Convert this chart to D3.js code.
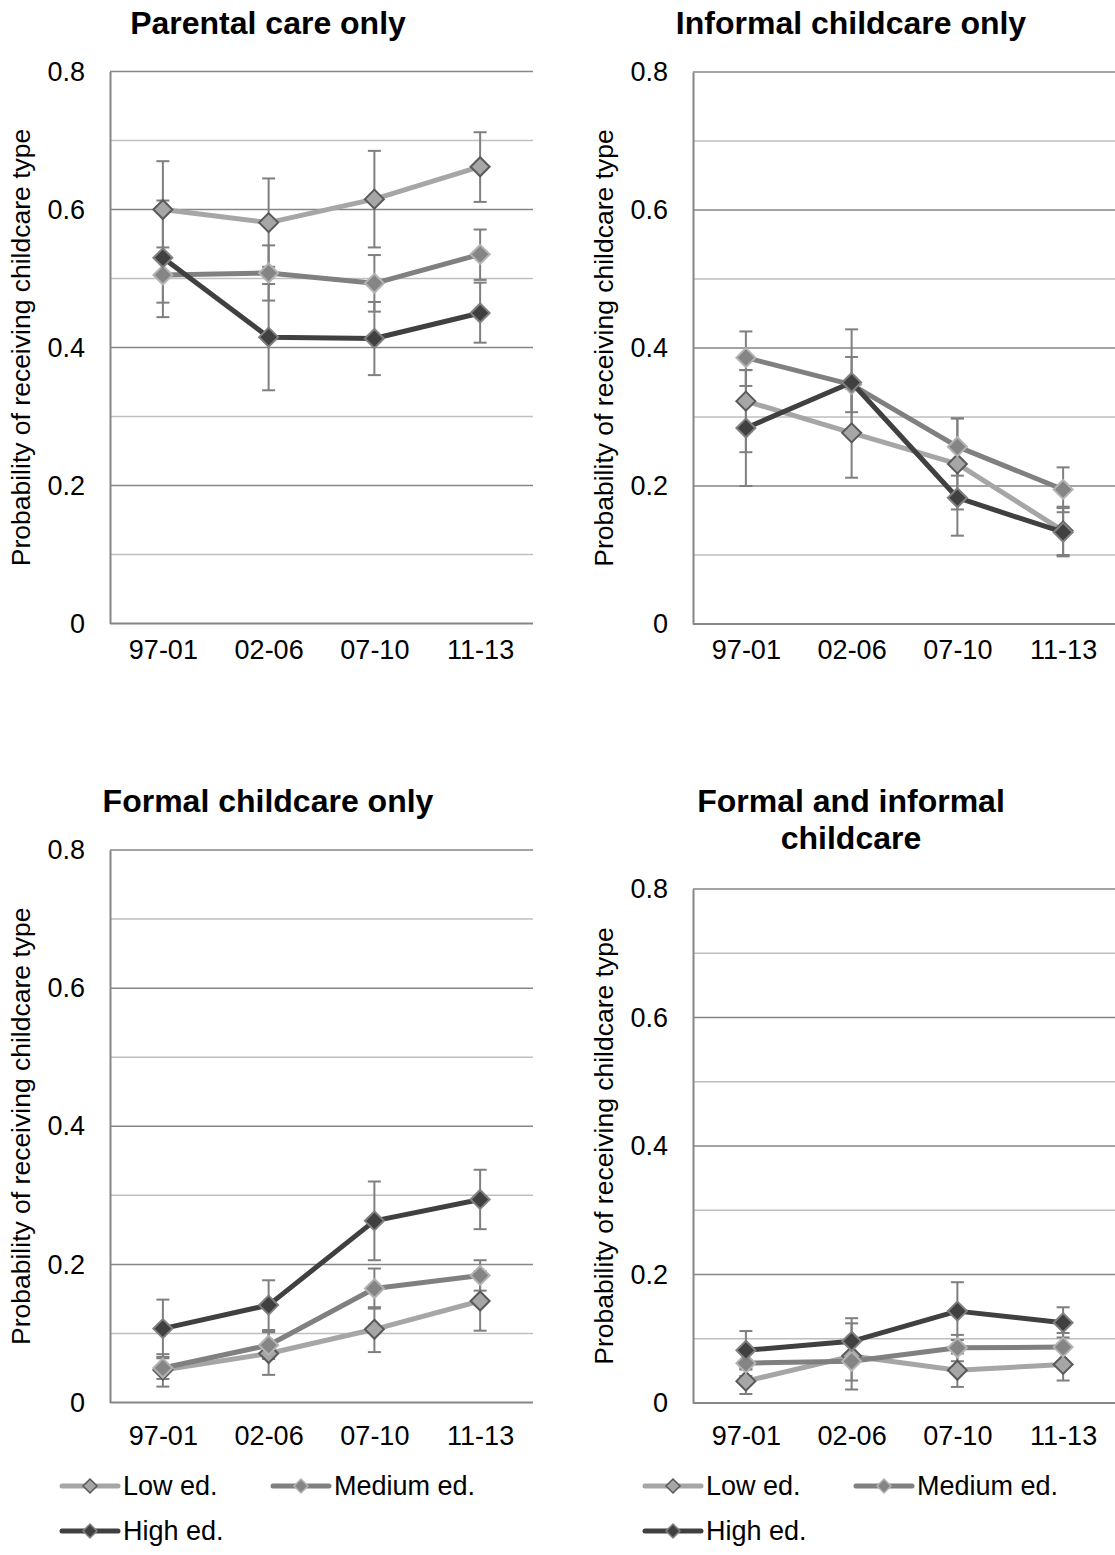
<!DOCTYPE html>
<html><head><meta charset="utf-8">
<script src="https://cdn.jsdelivr.net/npm/d3@7"></script>
<style>body{margin:0;background:#fff} svg{display:block;font-family:"Liberation Sans",Arial,sans-serif}</style>
</head><body><svg id="c" width="1115" height="1555"></svg>
<script>
// ---------- DATA ----------
const categories = ["97-01", "02-06", "07-10", "11-13"];
const seriesNames = ["Low ed.", "Medium ed.", "High ed."];
const yTicks = [0, 0.2, 0.4, 0.6, 0.8];
const yMinorGrid = [0.1, 0.3, 0.5, 0.7];
const panelTitles = [["Parental care only"], ["Informal childcare only"], ["Formal childcare only"], ["Formal and informal", "childcare"]];
const yAxisTitle = "Probability of receiving childcare type";

// Parental care only  (rows: Low, Medium, High)
const parentalValues = [[0.600, 0.581, 0.615, 0.662], [0.505, 0.508, 0.493, 0.535], [0.530, 0.415, 0.413, 0.450]];
const parentalLower  = [[0.530, 0.517, 0.545, 0.611], [0.465, 0.468, 0.452, 0.498], [0.444, 0.338, 0.360, 0.407]];
const parentalUpper  = [[0.670, 0.645, 0.685, 0.712], [0.545, 0.548, 0.534, 0.571], [0.613, 0.492, 0.466, 0.494]];

// Informal childcare only
const informalValues = [[0.323, 0.277, 0.232, 0.135], [0.386, 0.347, 0.257, 0.195], [0.284, 0.350, 0.183, 0.133]];
const informalLower  = [[0.249, 0.212, 0.166, 0.100], [0.345, 0.307, 0.215, 0.162], [0.200, 0.272, 0.128, 0.098]];
const informalUpper  = [[0.368, 0.341, 0.298, 0.170], [0.424, 0.387, 0.298, 0.227], [0.368, 0.427, 0.237, 0.168]];

// Formal childcare only
const formalValues = [[0.047, 0.071, 0.106, 0.147], [0.050, 0.083, 0.165, 0.184], [0.107, 0.141, 0.263, 0.294]];
const formalLower  = [[0.023, 0.040, 0.073, 0.104], [0.034, 0.063, 0.136, 0.162], [0.064, 0.105, 0.206, 0.251]];
const formalUpper  = [[0.070, 0.102, 0.138, 0.190], [0.066, 0.103, 0.194, 0.206], [0.149, 0.177, 0.320, 0.337]];

// Formal and informal childcare
const bothValues = [[0.034, 0.073, 0.051, 0.060], [0.062, 0.065, 0.086, 0.087], [0.082, 0.096, 0.143, 0.125]];
const bothLower  = [[0.014, 0.021, 0.025, 0.035], [0.042, 0.035, 0.065, 0.065], [0.052, 0.060, 0.098, 0.102]];
const bothUpper  = [[0.054, 0.124, 0.077, 0.084], [0.082, 0.095, 0.106, 0.109], [0.112, 0.132, 0.188, 0.149]];

// ---------- STYLE / LAYOUT ----------
const seriesStyles = [
  {line: "#a6a6a6", fill: "#a6a6a6", stroke: "#595959"},
  {line: "#808080", fill: "#858585", stroke: "#b3b3b3"},
  {line: "#404040", fill: "#404040", stroke: "#808080"}
];
const panels = [
  {values: parentalValues, lower: parentalLower, upper: parentalUpper, title: panelTitles[0],
   left: 110, right: 533, top: 71.5, bottom: 623.5, chartX: 0, titleBase: 34, xPad: 16, legend: false},
  {values: informalValues, lower: informalLower, upper: informalUpper, title: panelTitles[1],
   left: 693, right: 1116, top: 72, bottom: 624, chartX: 583, titleBase: 34, xPad: 16, legend: false},
  {values: formalValues, lower: formalLower, upper: formalUpper, title: panelTitles[2],
   left: 110, right: 533, top: 850, bottom: 1402.5, chartX: 0, titleBase: 812, xPad: 23, legend: true},
  {values: bothValues, lower: bothLower, upper: bothUpper, title: panelTitles[3],
   left: 693, right: 1116, top: 889, bottom: 1403, chartX: 583, titleBase: 812, xPad: 23, legend: true}
];
const chartWidth = 536;
const svg = d3.select("#c");
const diamond = r => `M0,${-r}L${r},0L0,${r}L${-r},0Z`;

function drawPanel(p) {
  const g = svg.append("g");
  const x = d3.scalePoint().domain(categories).range([p.left, p.right]).padding(0.5);
  const y = d3.scaleLinear().domain([0, 0.8]).range([p.bottom, p.top]);

  g.selectAll(".minor").data(yMinorGrid).join("line")
    .attr("x1", p.left).attr("x2", p.right).attr("y1", d => y(d)).attr("y2", d => y(d))
    .attr("stroke", "#bfbfbf").attr("stroke-width", 1.5);
  g.selectAll(".major").data(yTicks.filter(d => d > 0)).join("line")
    .attr("x1", p.left).attr("x2", p.right).attr("y1", d => y(d)).attr("y2", d => y(d))
    .attr("stroke", "#868686").attr("stroke-width", 1.5);

  const ya = g.append("g").attr("transform", `translate(${p.left},0)`)
    .call(d3.axisLeft(y).tickValues(yTicks).tickSize(0).tickPadding(25)
      .tickFormat(d => d === 0 ? "0" : d3.format(".1f")(d)));
  ya.select(".domain").attr("stroke", "#868686").attr("stroke-width", 2);
  ya.selectAll("text").attr("font-size", 27).attr("fill", "#000").attr("font-family", "Liberation Sans, Arial, sans-serif");

  const xa = g.append("g").attr("transform", `translate(0,${p.bottom})`)
    .call(d3.axisBottom(x).tickSize(0).tickPadding(p.xPad));
  xa.select(".domain").attr("stroke", "#868686").attr("stroke-width", 2).attr("d", `M${p.left},0H${p.right}`);
  xa.selectAll("text").attr("font-size", 27).attr("fill", "#000").attr("font-family", "Liberation Sans, Arial, sans-serif");

  g.append("text")
    .attr("transform", `translate(${p.chartX + 30},${(p.top + p.bottom) / 2}) rotate(-90)`)
    .attr("text-anchor", "middle").attr("font-size", 26.5).attr("fill", "#000")
    .text(yAxisTitle);

  const tcx = p.chartX + chartWidth / 2;
  p.title.forEach((t, i) => {
    g.append("text").attr("x", tcx).attr("y", p.titleBase + i * 37)
      .attr("text-anchor", "middle").attr("font-size", 32).attr("font-weight", "bold").attr("fill", "#000")
      .text(t);
  });

  p.values.forEach((vals, s) => {
    const eb = g.append("g").attr("stroke", "#7f7f7f").attr("stroke-width", 2).attr("fill", "none");
    categories.forEach((c, i) => {
      const cx = x(c), lo = y(p.lower[s][i]), hi = y(p.upper[s][i]);
      eb.append("line").attr("x1", cx).attr("x2", cx).attr("y1", lo).attr("y2", hi);
      eb.append("line").attr("x1", cx - 6.5).attr("x2", cx + 6.5).attr("y1", lo).attr("y2", lo);
      eb.append("line").attr("x1", cx - 6.5).attr("x2", cx + 6.5).attr("y1", hi).attr("y2", hi);
    });
  });

  const line = d3.line().x((d, i) => x(categories[i])).y(d => y(d));
  p.values.forEach((vals, s) => {
    const st = seriesStyles[s];
    g.append("path").datum(vals).attr("d", line)
      .attr("fill", "none").attr("stroke", st.line).attr("stroke-width", 5).attr("stroke-linejoin", "round");
    g.selectAll(null).data(vals).join("path")
      .attr("transform", (d, i) => `translate(${x(categories[i])},${y(d)})`)
      .attr("d", diamond(9.5)).attr("fill", st.fill).attr("stroke", st.stroke).attr("stroke-width", 2);
  });

  if (p.legend) {
    const items = [
      {s: 0, lx: p.chartX + 62, ly: 1486},
      {s: 1, lx: p.chartX + 273, ly: 1486},
      {s: 2, lx: p.chartX + 62, ly: 1531}
    ];
    items.forEach(it => {
      const st = seriesStyles[it.s];
      const lg = g.append("g").attr("transform", `translate(${it.lx},${it.ly})`);
      lg.append("line").attr("x1", 0).attr("x2", 56).attr("y1", 0).attr("y2", 0)
        .attr("stroke", st.line).attr("stroke-width", 5).attr("stroke-linecap", "round");
      lg.append("path").attr("transform", "translate(28,0)").attr("d", diamond(7))
        .attr("fill", st.fill).attr("stroke", st.stroke).attr("stroke-width", 1.5);
      lg.append("text").attr("x", 61).attr("y", 0).attr("dy", "0.35em")
        .attr("font-size", 27).attr("fill", "#000").text(seriesNames[it.s]);
    });
  }
}
panels.forEach(drawPanel);
</script>
</body></html>
